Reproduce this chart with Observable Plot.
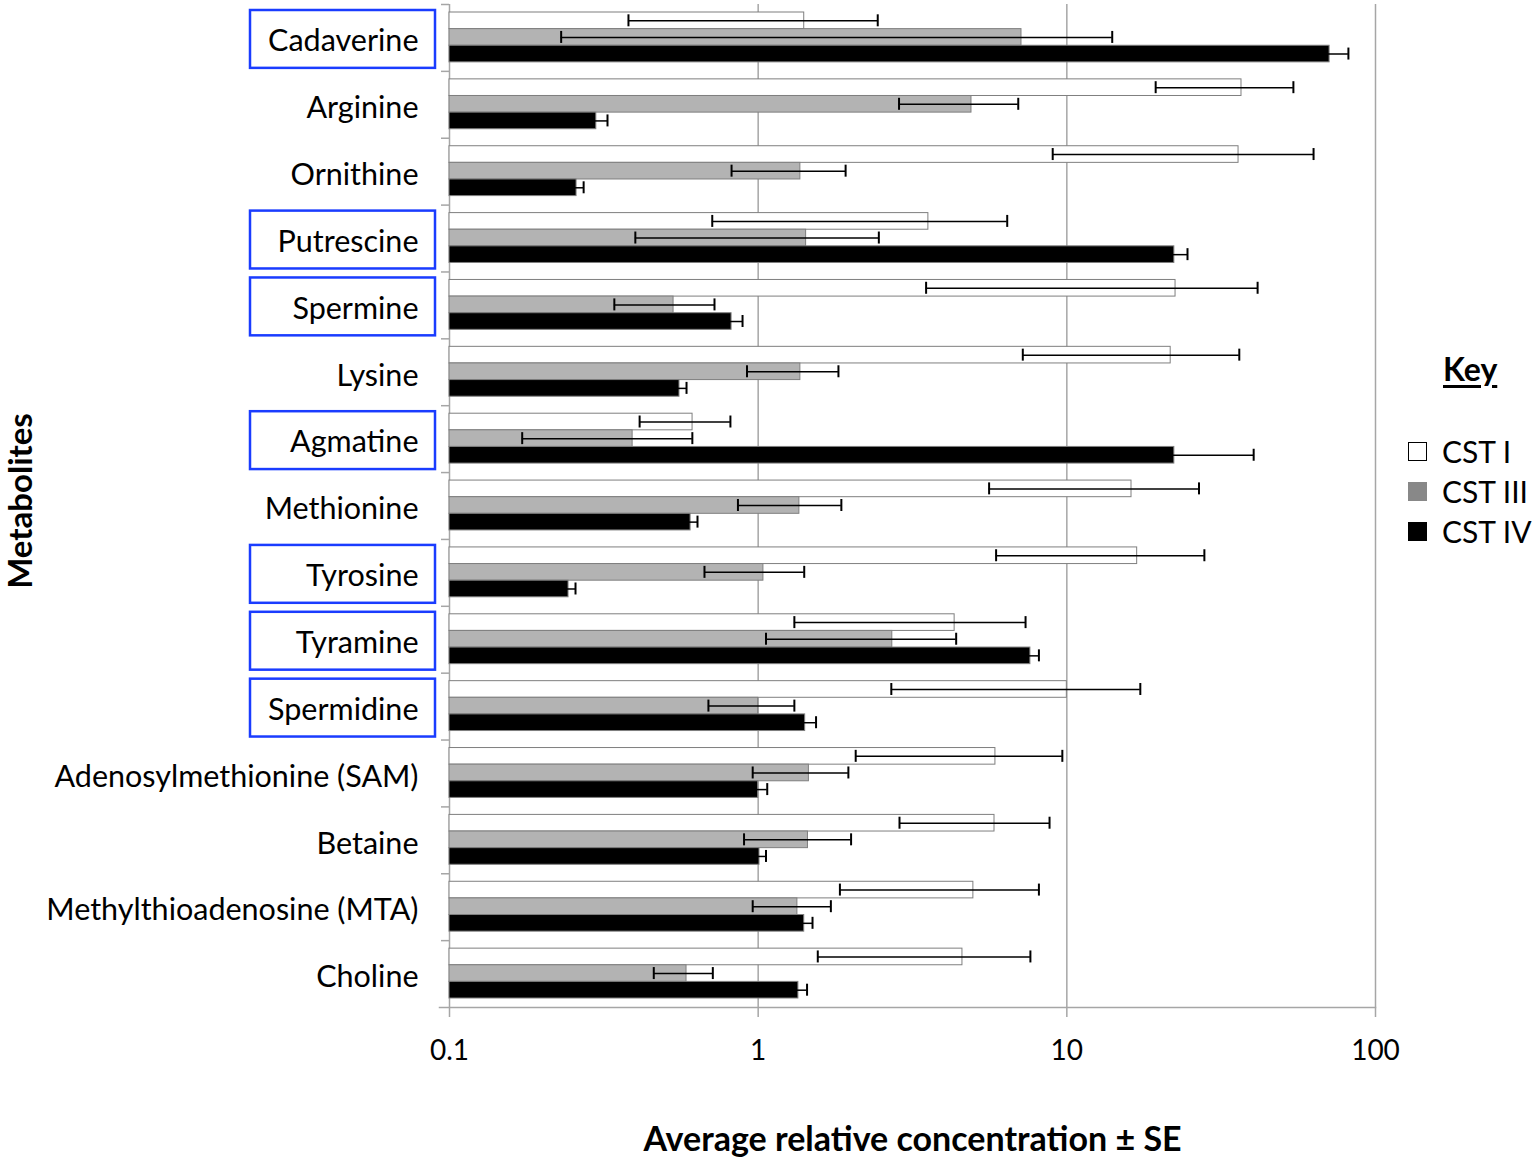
<!DOCTYPE html>
<html>
<head>
<meta charset="utf-8">
<script src="https://cdn.jsdelivr.net/npm/d3@7"></script>
<script src="https://cdn.jsdelivr.net/npm/@observablehq/plot@0.6"></script>
<style>
  html, body { margin: 0; padding: 0; background: #fff; overflow: hidden; }
  #wrap { position: relative; width: 1536px; height: 1161px; font-family: Lato, "Open Sans", sans-serif; }
  #legend { position: absolute; left: 1408px; top: 349px; color: #000; font-size: 30px; }
  #legend .key { font-weight: bold; font-size: 32px; text-decoration: underline; text-underline-offset: 4px; margin-left: 35px; margin-bottom: 43px; }
  #legend .item { display: flex; align-items: center; height: 40px; }
  #legend .sw { width: 19px; height: 19px; box-sizing: border-box; margin-right: 15px; }
</style>
</head>
<body>
<div id="wrap"><div id="legend"></div></div>
<script>
// ---- data ----
const metabolites = ["Cadaverine", "Arginine", "Ornithine", "Putrescine", "Spermine", "Lysine", "Agmatine",
  "Methionine", "Tyrosine", "Tyramine", "Spermidine", "Adenosylmethionine (SAM)", "Betaine",
  "Methylthioadenosine (MTA)", "Choline"];
const boxed = ["Cadaverine", "Putrescine", "Spermine", "Agmatine", "Tyrosine", "Tyramine", "Spermidine"];
const groups = ["CST I", "CST III", "CST IV"];
const cstI     = [1.41, 36.8, 36.0, 3.56, 22.5, 21.7, 0.613, 16.2, 16.9, 4.33, 10.0, 5.87, 5.83, 4.98, 4.59];
const cstI_se  = [1.03, 17.4, 27.0, 2.85, 19.0, 14.5, 0.20, 10.6, 11.0, 3.02, 7.3, 3.8, 2.96, 3.14, 3.03];
const cstIII    = [7.13, 4.91, 1.37, 1.43, 0.532, 1.37, 0.392, 1.36, 1.04, 2.72, 1.00, 1.46, 1.45, 1.34, 0.586];
const cstIII_se = [6.9, 2.05, 0.55, 1.03, 0.19, 0.45, 0.22, 0.50, 0.37, 1.66, 0.31, 0.50, 0.55, 0.38, 0.127];
const cstIV    = [71.0, 0.299, 0.258, 22.3, 0.820, 0.556, 22.3, 0.604, 0.243, 7.62, 1.42, 1.00, 1.01, 1.41, 1.35];
const cstIV_se = [10.7, 0.026, 0.014, 2.3, 0.07, 0.03, 18.0, 0.032, 0.013, 0.50, 0.12, 0.07, 0.05, 0.09, 0.09];
const xTicks = [0.1, 1, 10, 100];
const xTitle = "Average relative concentration ± SE";
const yTitle = "Metabolites";
const legendTitle = "Key";

// ---- styles / layout ----
const barFills = ["#ffffff", "#b3b3b3", "#000000"];
const legendFills = ["#ffffff", "#888888", "#000000"];
const legendBorders = ["#000000", "#888888", "#000000"];
const gridColor = "#a6a6a6";
const W = 1536, H = 1161, mL = 449, mR = 161, mT = 4, mB = 154;
const plotW = W - mL - mR;
const plotH = H - mT - mB;
const bw = plotH / metabolites.length;
const padTop = 8, padBot = 9;
const bh = (bw - padTop - padBot) / groups.length;
const capH = 12;
const fontFamily = "Lato, 'Open Sans', sans-serif";

const seriesVals = [cstI, cstIII, cstIV];
const seriesSE = [cstI_se, cstIII_se, cstIV_se];
const rows = metabolites.flatMap((name, i) =>
  groups.map((group, k) => ({name, group, value: seriesVals[k][i], se: seriesSE[k][i]})));

const seriesMarks = groups.flatMap((g, k) => {
  const d = rows.filter(r => r.group === g);
  const top = padTop + k * bh;
  const bottom = bw - padTop - (k + 1) * bh;
  const center = top + bh / 2 - bw / 2;
  const capTop = top + bh / 2 - capH / 2;
  const capBottom = bottom + bh / 2 - capH / 2;
  return [
    Plot.barX(d, {y: "name", x1: xTicks[0], x2: "value", fill: "group", stroke: "#7f7f7f", strokeWidth: 1,
      insetTop: top, insetBottom: bottom}),
    Plot.ruleY(d, {y: "name", x1: r => r.value - r.se, x2: r => r.value + r.se, dy: center,
      stroke: "#000", strokeWidth: 1.5}),
    Plot.tickX(d, {y: "name", x: r => r.value - r.se, insetTop: capTop, insetBottom: capBottom,
      stroke: "#000", strokeWidth: 2}),
    Plot.tickX(d, {y: "name", x: r => r.value + r.se, insetTop: capTop, insetBottom: capBottom,
      stroke: "#000", strokeWidth: 2})
  ];
});

const chart = Plot.plot({
  width: W, height: H,
  marginLeft: mL, marginRight: mR, marginTop: mT, marginBottom: mB,
  style: {fontFamily, fontSize: "30px", color: "#000", background: "#fff"},
  x: {type: "log", domain: [xTicks[0], xTicks[xTicks.length - 1]], axis: null},
  y: {domain: metabolites, padding: 0, round: false, axis: null},
  color: {domain: groups, range: barFills},
  marks: [
    Plot.ruleX(xTicks, {stroke: gridColor, strokeWidth: 1.5}),
    Plot.tickY(metabolites, {y: d => d, dy: -bw / 2, insetLeft: -8, insetRight: plotW, stroke: gridColor, strokeWidth: 1.5}),
    Plot.frame({anchor: "bottom", insetLeft: -10, stroke: gridColor, strokeWidth: 1.5}),
    Plot.cell(boxed, {y: d => d, insetLeft: -199, insetRight: plotW + 14, insetTop: 6, insetBottom: 3,
      fill: "none", stroke: "#1a3cff", strokeWidth: 2.5}),
    ...seriesMarks,
    Plot.axisX({ticks: xTicks, tickFormat: d => String(d), tickSize: 10, tickPadding: 23, fontSize: 28,
      stroke: gridColor, strokeWidth: 1.5, label: null}),
    Plot.axisY({tickSize: 0, tickPadding: 31, dy: 3.5, fontSize: 30.5, label: null}),
    Plot.text([xTitle], {frameAnchor: "bottom", dy: 133, lineAnchor: "middle", fontWeight: "bold", fontSize: 34}),
    Plot.text([yTitle], {frameAnchor: "left", dx: -428, dy: -5, rotate: -90, textAnchor: "middle", lineAnchor: "middle",
      fontWeight: "bold", fontSize: 33})
  ]
});
document.getElementById("wrap").prepend(chart);

// legend
const leg = document.getElementById("legend");
const keyEl = document.createElement("div");
keyEl.className = "key";
keyEl.textContent = legendTitle;
leg.appendChild(keyEl);
groups.forEach((g, k) => {
  const it = document.createElement("div");
  it.className = "item";
  const sw = document.createElement("span");
  sw.className = "sw";
  sw.style.background = legendFills[k];
  sw.style.border = "1.5px solid " + legendBorders[k];
  const tx = document.createElement("span");
  tx.textContent = g;
  it.appendChild(sw); it.appendChild(tx);
  leg.appendChild(it);
});
</script>
</body>
</html>
